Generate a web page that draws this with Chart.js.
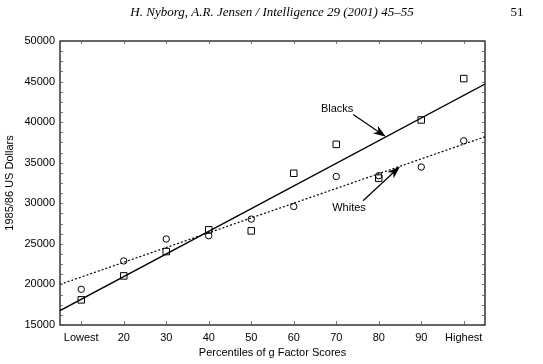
<!DOCTYPE html>
<html>
<head>
<meta charset="utf-8">
<script src="https://cdn.jsdelivr.net/npm/chart.js@4.4.1/dist/chart.umd.min.js"></script>
<style>
  html, body { margin: 0; padding: 0; background: #fff; }
</style>
</head>
<body>
<canvas id="myChart" width="543" height="364"></canvas>
<script>
const xLabels = ["Lowest", "20", "30", "40", "50", "60", "70", "80", "90", "Highest"];
const blacks = [18100, 21050, 24050, 26730, 26600, 33700, 37260, 33100, 40270, 45370];
const whites = [19400, 22900, 25600, 26000, 28050, 29600, 33300, 33400, 34470, 37700];
// regression lines, values read where they meet the left and right frame
const fitX = [0.5, 10.5];
const blacksFit = [16770, 44700];
const whitesFit = [20000, 38200];

const FONT = "'Liberation Sans', Arial, sans-serif";

// labels + arrows (in data units)
const notes = [
  { text: "Blacks", at: [7.02, 41670], from: [7.40, 40930], to: [8.17, 38200] },
  { text: "Whites", at: [7.30, 29380], from: [7.63, 30310], to: [8.50, 34540] }
];

function arrow(ctx, x1, y1, x2, y2) {
  const a = Math.atan2(y2 - y1, x2 - x1);
  const len = 13, half = 4.5;
  ctx.beginPath();
  ctx.moveTo(x1, y1);
  ctx.lineTo(x2 - Math.cos(a) * 6, y2 - Math.sin(a) * 6);
  ctx.stroke();
  ctx.save();
  ctx.translate(x2, y2);
  ctx.rotate(a);
  ctx.beginPath();
  ctx.moveTo(0, 0);
  ctx.lineTo(-len, -half);
  ctx.lineTo(-len * 0.7, 0);
  ctx.lineTo(-len, half);
  ctx.closePath();
  ctx.fill();
  ctx.restore();
}

const extras = {
  id: "extras",
  afterDraw(chart) {
    const ctx = chart.ctx;
    const { left, right, top, bottom } = chart.chartArea;
    const xs = chart.scales.x, ys = chart.scales.y;
    ctx.save();
    // page header
    ctx.fillStyle = "#000";
    ctx.font = "italic 13px 'Liberation Serif', 'Times New Roman', serif";
    ctx.textAlign = "center";
    ctx.textBaseline = "middle";
    ctx.fillText("H. Nyborg, A.R. Jensen / Intelligence 29 (2001) 45\u201355", 272, 13);
    ctx.font = "13px 'Liberation Serif', 'Times New Roman', serif";
    ctx.fillText("51", 517, 13);

    // frame
    ctx.strokeStyle = "#000";
    ctx.lineWidth = 1.2;
    ctx.strokeRect(left, top, right - left, bottom - top);

    // small inside ticks
    ctx.lineWidth = 0.8;
    ctx.strokeStyle = "#555";
    ctx.beginPath();
    for (let v = 15000; v <= 50000; v += 1250) {
      const y = Math.round(ys.getPixelForValue(v)) + 0.5;
      ctx.moveTo(left, y); ctx.lineTo(left + 3, y);
      ctx.moveTo(right, y); ctx.lineTo(right - 3, y);
    }
    xLabels.forEach((_, i) => {
      const x = Math.round(xs.getPixelForValue(i + 1)) + 0.5;
      ctx.moveTo(x, bottom); ctx.lineTo(x, bottom - 4);
      ctx.moveTo(x, top); ctx.lineTo(x, top + 3);
    });
    ctx.stroke();

    // annotations
    ctx.strokeStyle = "#000";
    ctx.fillStyle = "#000";
    ctx.lineWidth = 1.2;
    ctx.font = "11px " + FONT;
    ctx.textAlign = "center";
    ctx.textBaseline = "middle";
    notes.forEach(n => {
      ctx.fillText(n.text, xs.getPixelForValue(n.at[0]), ys.getPixelForValue(n.at[1]));
      arrow(ctx,
        xs.getPixelForValue(n.from[0]), ys.getPixelForValue(n.from[1]),
        xs.getPixelForValue(n.to[0]), ys.getPixelForValue(n.to[1]));
    });
    ctx.restore();
  }
};

const ctx = document.getElementById("myChart").getContext("2d");
const chart = new Chart(ctx, {
  type: "scatter",
  data: {
    datasets: [
      {
        label: "Blacks fit",
        data: fitX.map((x, i) => ({ x: x, y: blacksFit[i] })),
        showLine: true,
        borderColor: "#000",
        borderWidth: 1.4,
        pointRadius: 0,
      },
      {
        label: "Whites fit",
        data: fitX.map((x, i) => ({ x: x, y: whitesFit[i] })),
        showLine: true,
        borderColor: "#000",
        borderWidth: 1.2,
        borderDash: [2, 2],
        pointRadius: 0,
      },
      {
        label: "Blacks",
        data: blacks.map((v, i) => ({ x: i + 1, y: v })),
        pointStyle: "rect",
        pointRadius: 4.6,
        borderColor: "#000",
        borderWidth: 1,
        backgroundColor: "rgba(255,255,255,0)",
      },
      {
        label: "Whites",
        data: whites.map((v, i) => ({ x: i + 1, y: v })),
        pointStyle: "circle",
        pointRadius: 3.2,
        borderColor: "#000",
        borderWidth: 1,
        backgroundColor: "rgba(255,255,255,0)",
      },
    ],
  },
  options: {
    responsive: false,
    animation: false,
    layout: { padding: { top: 41, right: 58, left: 0, bottom: 0 } },
    plugins: {
      legend: { display: false },
      tooltip: { enabled: false },
    },
    scales: {
      x: {
        type: "linear",
        min: 0.5,
        max: 10.5,
        afterBuildTicks: (axis) => {
          axis.ticks = xLabels.map((_, i) => ({ value: i + 1 }));
        },
        afterFit: (scale) => { scale.height = 39; },
        grid: { display: false, drawTicks: false },
        border: { display: false },
        ticks: {
          padding: 6,
          autoSkip: false,
          maxRotation: 0,
          color: "#000",
          font: { family: FONT, size: 11 },
          callback: (v) => xLabels[v - 1],
        },
        title: {
          display: true,
          text: "Percentiles of g Factor Scores",
          color: "#000",
          font: { family: FONT, size: 11 },
          padding: { top: 0, bottom: 4 },
        },
      },
      y: {
        min: 15000,
        max: 50000,
        afterFit: (scale) => { scale.width = 60; },
        grid: { display: false, drawTicks: false },
        border: { display: false },
        ticks: {
          stepSize: 5000,
          padding: 5,
          color: "#000",
          font: { family: FONT, size: 11 },
          callback: (v) => String(v),
        },
        title: {
          display: true,
          text: "1985/86 US Dollars",
          color: "#000",
          font: { family: FONT, size: 11 },
          padding: { top: 3, bottom: 0 },
        },
      },
    },
  },
  plugins: [extras],
});
</script>
</body>
</html>
